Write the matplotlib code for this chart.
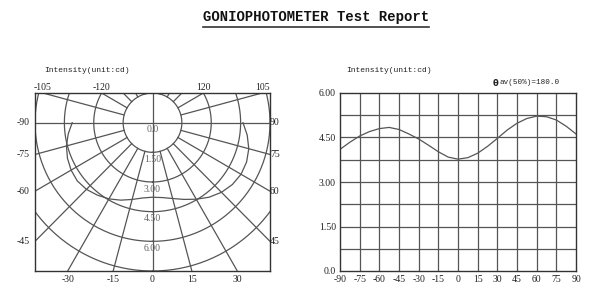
import matplotlib.pyplot as plt
import numpy as np

# intensity (cd), every 7.5 degrees
angles = [-90, -82.5, -75, -67.5, -60, -52.5, -45, -37.5, -30, -22.5, -15, -7.5, 0,
          7.5, 15, 22.5, 30, 37.5, 45, 52.5, 60, 67.5, 75, 82.5, 90]
intensity = [4.10, 4.34, 4.55, 4.70, 4.80, 4.84, 4.77, 4.62, 4.45, 4.24, 4.02, 3.84, 3.77,
             3.82, 3.97, 4.20, 4.47, 4.75, 4.98, 5.14, 5.22, 5.20, 5.09, 4.88, 4.62]

rings = [1.5, 3.0, 4.5, 6.0, 7.5]
ring_labels = ["0.0", "1.50", "3.00", "4.50", "6.00"]
polar_ticks = [-120, -105, -90, -75, -60, -45, -30, -15, 0, 15, 30, 45, 60, 75, 90, 105, 120]

x_ticks = list(range(-90, 91, 15))
y_ticks = [0, 1.5, 3.0, 4.5, 6.0]
y_tick_labels = ["0.0", "1.50", "3.00", "4.50", "6.00"]

W, H = 600, 295
gc = "#555555"
tc = "#222222"
tick_font = dict(family="Liberation Serif", size=7, color=tc)

fig = plt.figure(figsize=(W / 100, H / 100), dpi=100)

fig.text(316 / W, 1 - 17 / H, "GONIOPHOTOMETER Test Report", family="Liberation Mono",
         size=10, weight="bold", ha="center", va="center", color="#111111")
fig.add_artist(plt.Line2D([203 / W, 429 / W], [1 - 26.5 / H, 1 - 26.5 / H], color="#333333", lw=1.2))

# ---- polar-like chart on the left ----
ax1 = fig.add_axes([35 / W, 24 / H, 235 / W, 178 / H])
xmin, xmax, ymin, ymax = -6, 6, -7.5, 1.5
ax1.set_xlim(xmin, xmax)
ax1.set_ylim(ymin, ymax)
ax1.set_xticks([])
ax1.set_yticks([])
for s in ax1.spines.values():
    s.set_color("#333333")
    s.set_linewidth(1.0)

t = np.linspace(0, 2 * np.pi, 400)
for r in rings:
    ax1.plot(r * np.sin(t), -r * np.cos(t), color=gc, lw=0.9)

for a in range(-165, 181, 15):
    if a in (0, 90, -90, 180):
        continue
    th = np.radians(a)
    ax1.plot([1.5 * np.sin(th), 12 * np.sin(th)], [-1.5 * np.cos(th), -12 * np.cos(th)], color=gc, lw=0.9)
ax1.plot([xmin, xmax], [0, 0], color=gc, lw=0.9)
ax1.plot([0, 0], [ymin, ymax], color=gc, lw=0.9)

th = np.radians(angles)
r = np.array(intensity)
ax1.plot(r * np.sin(th), -r * np.cos(th), color="#555555", lw=0.9)

for k, lab in enumerate(ring_labels):
    ax1.text(0, -(1.5 * k + 0.36), lab, ha="center", va="center", family="Liberation Serif",
             size=7, color="#666666")


def hit(a):
    th = np.radians(a)
    dx, dy = np.sin(th), -np.cos(th)
    cands = []
    if dx > 1e-9:
        cands.append((xmax / dx, "right"))
    if dx < -1e-9:
        cands.append((xmin / dx, "left"))
    if dy > 1e-9:
        cands.append((ymax / dy, "top"))
    if dy < -1e-9:
        cands.append((ymin / dy, "bottom"))
    rr, side = min(cands)
    return rr * dx, rr * dy, side


for a in polar_ticks:
    x, y, side = hit(a)
    if side == "left":
        ax1.annotate(str(a), (x, y), xytext=(-4, 0), textcoords="offset points", ha="right", va="center", **tick_font)
    elif side == "right":
        ax1.annotate(str(a), (x, y), xytext=(0, 0), textcoords="offset points", ha="left", va="center", **tick_font)
    elif side == "bottom":
        ax1.annotate(str(a), (x, y), xytext=(0, -3), textcoords="offset points", ha="center", va="top", **tick_font)
    else:
        ax1.annotate(str(a), (x, y), xytext=(0, 0.5), textcoords="offset points", ha="center", va="bottom", **tick_font)

fig.text(44 / W, 1 - 71 / H, "Intensity(unit:cd)", family="Liberation Mono", size=5.8, va="center", color=tc)

# ---- cartesian chart on the right ----
ax2 = fig.add_axes([340 / W, 24 / H, 236 / W, 178 / H])
ax2.set_xlim(-90, 90)
ax2.set_ylim(0, 6)
for v in x_ticks[1:-1]:
    ax2.axvline(v, color=gc, lw=0.9)
for v in np.arange(0.75, 6, 0.75):
    ax2.axhline(v, color=gc, lw=0.9)
ax2.plot(angles, intensity, color="#555555", lw=0.9)
ax2.set_xticks(x_ticks)
ax2.set_xticklabels([str(v) for v in x_ticks], **tick_font)
ax2.set_yticks(y_ticks)
ax2.set_yticklabels(y_tick_labels, **tick_font)
ax2.tick_params(length=0, pad=3)
for s in ax2.spines.values():
    s.set_color("#333333")
    s.set_linewidth(1.0)

fig.text(346 / W, 1 - 71 / H, "Intensity(unit:cd)", family="Liberation Mono", size=5.8, va="center", color=tc)
fig.text(493 / W, 1 - 83 / H, "θ", family="DejaVu Sans", size=6, weight="bold", va="center", color=tc)
fig.text(499 / W, 1 - 83 / H, "av(50%)=180.0", family="Liberation Mono", size=5.5, va="center", color=tc)

fig.savefig("out.png", dpi=100)
